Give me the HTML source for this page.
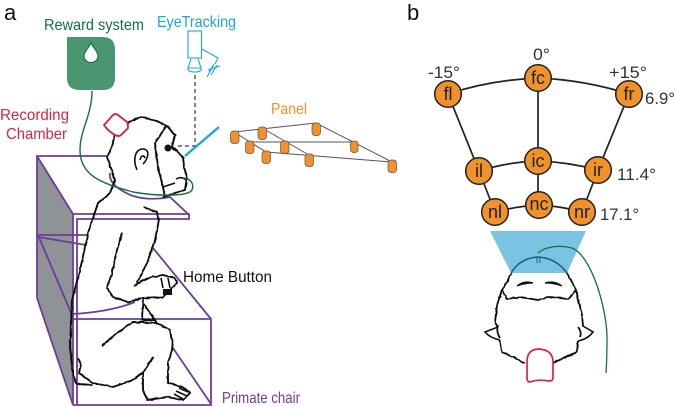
<!DOCTYPE html>
<html><head><meta charset="utf-8"><style>
html,body{margin:0;padding:0;background:#fff}
svg{display:block}
text{font-family:"Liberation Sans",sans-serif}
</style></head><body>
<svg width="675" height="407" viewBox="0 0 675 407" xmlns="http://www.w3.org/2000/svg">
<defs><filter id="r" x="-5%" y="-5%" width="110%" height="110%"><feTurbulence type="fractalNoise" baseFrequency="0.2" numOctaves="2" seed="4"/><feDisplacementMap in="SourceGraphic" scale="2" xChannelSelector="R" yChannelSelector="G"/></filter></defs>

<text x="4" y="20" font-size="22" fill="#111">a</text>
<text x="407" y="20" font-size="22" fill="#111">b</text>

<!-- chair back -->
<polygon points="37,156 73,214 73,405 37,298" fill="#8f9395"/>
<g fill="none" stroke="#6b3d9c" stroke-width="1.8">
<path d="M37,298V156H107M37,156L73,214V405L37,298"/>
<path d="M73,214H189V219H77V405M73,405H211V319H72M153,248L211,319M173,348L211,404"/>
<path d="M38,235H87M38,237L86,245M38,235L72,315M72,314Q110,312 135,302"/>
<path d="M110,173Q108,186 133,196Q150,201 170,197L188,214"/>
</g>

<!-- monkey -->
<g fill="none" stroke="#111" stroke-width="1.9" stroke-linejoin="round" filter="url(#r)">
<path d="M128,123L140,117L157,121L168,127L175,135L172,147L183,157L184,167L187,177L185,190L175,193L163,197"/>
<path d="M167,125L155,143L157,163L163,187L165,197"/>
<path d="M115,133L112,147L107,157L115,180L110,193L98,203L88,233L80,270L72,300L70,347L73,375L77,384L93,385"/>
<path d="M143,207L157,212L159,220L155,240L147,263L137,283"/>
<path d="M122,233L117,250L112,273L107,288L113,297L128,302L143,298L163,297L177,283L175,278L163,275L148,278L134,286"/>
<path d="M143,298L142,320L155,320M143,303L157,323"/>
<path d="M102,346L117,333L133,322L157,323L170,330L173,347L168,363L168,383L183,387L190,393L183,400L167,397L147,400L143,390L143,373L153,357"/>
<path d="M78,358L81,364L79,373L93,383L113,387L133,380L143,372"/>
</g>
<g fill="none" stroke="#111" stroke-width="1.6">
<path d="M137,170C132,158 136,148 144,149C151,151 147,160 143,164"/>
<path d="M140,160C141,155 144,155 145,158"/>
<path d="M176,179Q181,176 186,180M175,183L163,187"/>
<path d="M161,278L163,288M168,278L170,288"/>
<path d="M179,388L188,392M176,391L187,396M174,394L183,399"/>
</g>
<circle cx="168" cy="148" r="3.500" fill="#111"/>
<rect x="163" y="289" width="9" height="6" fill="#111"/>

<!-- reward -->
<path d="M67,37H103Q115,37 115,50V78Q115,90 103,90H80Q67,90 67,78Z" fill="#4a9670"/>
<path d="M91,43C88,49 84,52 84,56A7,6.500 0 0 0 98,56C98,52 94,49 91,43Z" fill="#fff" stroke="#14633c" stroke-width="1"/>
<text x="44" y="30" font-size="16" fill="#14703f" textLength="100" lengthAdjust="spacingAndGlyphs">Reward system</text>
<path d="M92,91C92,115 80,130 80,150C80,175 100,183 133,192C155,196 188,197 192,190C195,182 188,178 183,178" fill="none" stroke="#14703f" stroke-width="1.400"/>

<!-- chamber -->
<path d="M104,125L113,115Q115,113 118,115L127,122Q128,124 128,128L121,135Q119,137 115,135Q108,131 104,125Z" fill="#fff" stroke="#d7263d" stroke-width="1.900" stroke-linejoin="round"/>
<text x="0" y="120" font-size="16" fill="#d7263d" textLength="69" lengthAdjust="spacingAndGlyphs">Recording</text>
<text x="6" y="139" font-size="16" fill="#d7263d" textLength="61" lengthAdjust="spacingAndGlyphs">Chamber</text>

<!-- eye tracker -->
<text x="157" y="27" font-size="16" fill="#1aa7dd" textLength="79" lengthAdjust="spacingAndGlyphs">EyeTracking</text>
<g fill="none" stroke="#1aa7dd" stroke-width="1.100">
<rect x="188" y="31" width="13.500" height="27"/>
<path d="M191,59L188,68H201L198,59M188,68Q187,72 195,72Q202,72 201,68"/>
<path d="M202,49L218,58L215,64M208,70L220,66M209,72L214,64M211,75L217,65M207,77L213,66"/>
</g>
<path d="M195,75V146H175" fill="none" stroke="#444" stroke-width="1.300" stroke-dasharray="4 3"/>
<line x1="185" y1="156" x2="219" y2="127" stroke="#1aa7dd" stroke-width="2.400"/>

<!-- panel -->
<text x="271" y="114" font-size="16" fill="#f0922b" textLength="36" lengthAdjust="spacingAndGlyphs">Panel</text>
<g fill="none" stroke="#555" stroke-width="1">
<path d="M234,132L316,123L392,162L266,152L234,132"/>
<path d="M249,142H354M262,128L309,155"/>
</g>
<g fill="#f0922b" stroke="#555" stroke-width=".7">
<rect x="230.500" y="131" width="8.500" height="12.500" rx="3"/>
<rect x="258" y="127" width="8.500" height="12.500" rx="3"/>
<rect x="312" y="123" width="8.500" height="12.500" rx="3"/>
<rect x="245.500" y="141" width="8.500" height="12.500" rx="3"/>
<rect x="280.500" y="141" width="8.500" height="12.500" rx="3"/>
<rect x="350.500" y="141" width="7.500" height="11.500" rx="3"/>
<rect x="262" y="151" width="8.500" height="12.500" rx="3"/>
<rect x="305" y="154" width="8.500" height="12.500" rx="3"/>
<rect x="388" y="160" width="8.500" height="12.500" rx="3"/>
</g>

<!-- labels -->
<text x="183" y="282" font-size="16" fill="#111" textLength="89" lengthAdjust="spacingAndGlyphs">Home Button</text>
<text x="222" y="403" font-size="16" fill="#6b3d9c" textLength="78" lengthAdjust="spacingAndGlyphs">Primate chair</text>

<!-- panel b -->
<g fill="none" stroke="#222" stroke-width="1.700">
<path d="M448,94Q490,80 538,78Q585,80 629,94"/>
<path d="M448,94L479,171M629,94L598,170M538,78V205"/>
<path d="M479,171Q508,162 538,161Q568,162 598,170"/>
<path d="M479,171L495,212M598,170L582,212"/>
<path d="M495,212Q518,206 539,205Q560,206 582,212"/>
</g>
<g fill="#f0922b" stroke="#222" stroke-width="1.500">
<circle cx="538" cy="78" r="13.300"/><circle cx="448" cy="94" r="13.300"/><circle cx="629" cy="94" r="13.300"/>
<circle cx="479" cy="171" r="13.300"/><circle cx="538" cy="161" r="13.300"/><circle cx="598" cy="170" r="13.300"/>
<circle cx="495" cy="212" r="13.300"/><circle cx="539" cy="205" r="13.300"/><circle cx="582" cy="212" r="13.300"/>
</g>
<g font-size="18" fill="#222" text-anchor="middle">
<text x="538" y="84">fc</text><text x="448" y="100">fl</text><text x="629" y="100">fr</text>
<text x="479" y="177">il</text><text x="538" y="167">ic</text><text x="598" y="176">ir</text>
<text x="495" y="218">nl</text><text x="539" y="210">nc</text><text x="582" y="218">nr</text>
</g>
<g font-size="17" fill="#333">
<text x="533" y="60" textLength="17" lengthAdjust="spacingAndGlyphs">0°</text>
<text x="428" y="78" textLength="32" lengthAdjust="spacingAndGlyphs">-15°</text>
<text x="609" y="78" textLength="38" lengthAdjust="spacingAndGlyphs">+15°</text>
<text x="645" y="104" textLength="30" lengthAdjust="spacingAndGlyphs">6.9°</text>
<text x="617" y="180" textLength="39" lengthAdjust="spacingAndGlyphs">11.4°</text>
<text x="600" y="220" textLength="39" lengthAdjust="spacingAndGlyphs">17.1°</text>
</g>

<!-- head top view -->
<polygon points="490,231 586,231 567,273 511,273" fill="#7bc3e2"/>
<path d="M511,273Q520,258 538,257Q556,258 567,273" fill="none" stroke="#1b5e82" stroke-width="1.600"/>
<path d="M537,257V263M540,257V263" stroke="#1b5e82" stroke-width="1"/>
<path d="M538,253C546,246 560,245 572,248C592,256 607,310 607,338Q607,358 606,373" fill="none" stroke="#14703f" stroke-width="1.300"/>
<g fill="none" stroke="#111" stroke-width="1.800" stroke-linejoin="round" filter="url(#r)">
<path d="M512,273L502,290L497,305L495,322L498,328"/>
<path d="M500,340L502,352L525,363"/>
<path d="M567,273L576,290L582,315L583,326"/>
<path d="M578,341L577,352L553,363"/>
<path d="M502,290L507,299L520,297L538,300L550,297L568,299L576,290"/>
</g>
<g fill="none" stroke="#111" stroke-width="1.600">
<path d="M498,327L485,332Q490,338 500,340"/>
<path d="M583,326L593,332Q588,339 578,341"/>
</g>
<path d="M517,286Q524,280 533,283Q525,283 517,286Z M545,283Q554,280 562,286Q554,283 545,283Z" fill="#111" stroke="#111" stroke-width="1.200"/>
<path d="M498,325Q496,332 500,338M578,327Q582,332 580,337" fill="none" stroke="#111" stroke-width="1.800"/>
<path d="M527,362Q527,349 539,349Q553,350 553,362V378Q553,381 549,381Q538,379 530,382Q527,382 527,378Z" fill="#fff" stroke="#d7263d" stroke-width="1.700"/>
</svg>
</body></html>
